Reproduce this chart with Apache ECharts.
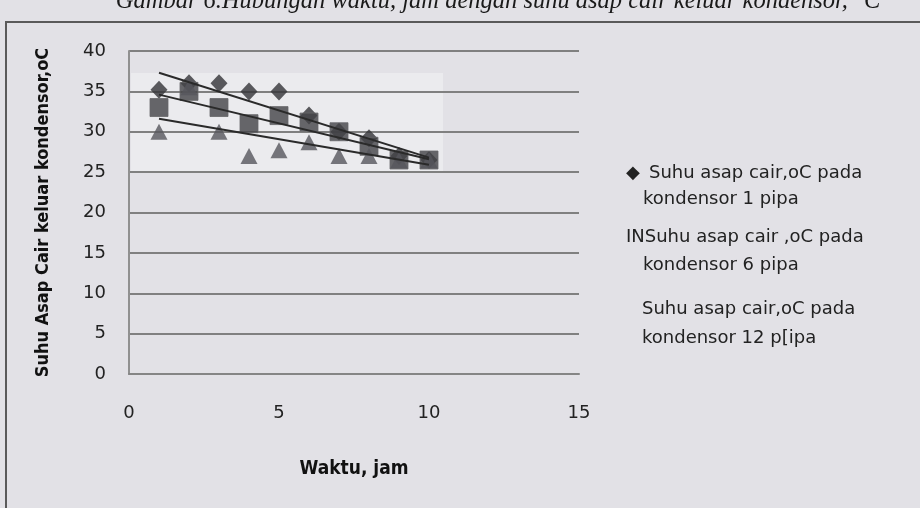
<!DOCTYPE html>
<html>
<head>
<meta charset="utf-8">
<script src="https://cdn.jsdelivr.net/npm/echarts@6/dist/echarts.min.js"></script>
<style>
  html, body { margin: 0; padding: 0; background: #e2e1e6; }
  #chart { width: 920px; height: 508px; }
</style>
</head>
<body>
<div id="chart"></div>
<script>
// waktu (jam) dan suhu asap cair keluar kondensor (oC)
const waktu = [1, 2, 3, 4, 5, 6, 7, 8, 9, 10]
const pipa1 = [35.2, 36, 36, 35, 35, 32, 30, 29.2, 27, 26.5]
const pipa6 = [33, 35, 33, 31, 32, 31.2, 30, 28.2, 26.5, 26.5]
const pipa12 = [30, 35.5, 30, 27, 27.7, 28.7, 27, 27, 26.5, 26.5]
// garis trend: nilai di t=1 dan t=10
const trendX = [1, 10]
const trend1 = [37.3, 26.8]
const trend6 = [34.6, 26.6]
const trend12 = [31.6, 25.9]

const legendLines = [
  ['Suhu asap cair,oC pada', 'kondensor 1 pipa'],
  ['INSuhu asap cair ,oC pada', 'kondensor 6 pipa'],
  ['Suhu asap cair,oC pada', 'kondensor 12 p[ipa']
]
const judul = 'Gambar 6.Hubungan waktu, jam dengan suhu asap cair keluar kondensor, \u00b0C'

const pair = (xs, ys) => xs.map((x, i) => [x, ys[i]])

const font = 'DejaVu Sans'
const txt = (x, y, s) => ({
  type: 'text', x: x, y: y, silent: true,
  style: { text: s, font: '18px "DejaVu Sans"', fill: '#222', verticalAlign: 'middle' }
})

const myChart = echarts.init(document.getElementById('chart'))
const option = {
  backgroundColor: '#e2e1e6',
  animation: false,
  grid: { left: 129, right: 341, top: 51, bottom: 134 },
  xAxis: {
    type: 'value',
    min: 0,
    max: 15,
    interval: 5,
    name: 'Waktu, jam',
    nameLocation: 'middle',
    nameGap: 86,
    nameTextStyle: { fontFamily: 'DejaVu Sans Condensed', fontWeight: 'bold', fontSize: 19, color: '#111' },
    axisLine: { show: true, lineStyle: { color: '#858585', width: 2 } },
    axisTick: { show: false },
    splitLine: { show: false },
    axisLabel: { margin: 30, fontFamily: font, fontSize: 18, color: '#222' }
  },
  yAxis: {
    type: 'value',
    min: 0,
    max: 40,
    interval: 5,
    name: 'Suhu Asap Cair keluar kondensor,oC',
    nameLocation: 'middle',
    nameGap: 77,
    nameTextStyle: { fontFamily: 'DejaVu Sans Condensed', fontWeight: 'bold', fontSize: 18, color: '#111' },
    axisLine: { show: true, lineStyle: { color: '#909090', width: 2 } },
    axisTick: { show: false },
    splitLine: { show: true, lineStyle: { color: '#808080', width: 2 } },
    axisLabel: { margin: 23, fontFamily: font, fontSize: 18, color: '#222' }
  },
  series: [
    {
      name: 'pipa1',
      type: 'scatter',
      symbol: 'diamond',
      symbolSize: [17, 18],
      itemStyle: { color: '#333337' },
      data: pair(waktu, pipa1),
      z: 3
    },
    {
      name: 'pipa6',
      type: 'scatter',
      symbol: 'rect',
      symbolSize: [18, 18],
      itemStyle: { color: '#434347', borderColor: '#666669', borderWidth: 1 },
      data: pair(waktu, pipa6),
      z: 3
    },
    {
      name: 'pipa12',
      type: 'scatter',
      symbol: 'triangle',
      symbolSize: [17, 16],
      itemStyle: { color: '#56565c' },
      data: pair(waktu, pipa12),
      z: 3
    },
    {
      type: 'line', silent: true, symbol: 'none', z: 4,
      lineStyle: { color: '#2a2a2a', width: 2 },
      data: pair(trendX, trend1)
    },
    {
      type: 'line', silent: true, symbol: 'none', z: 4,
      lineStyle: { color: '#2a2a2a', width: 2 },
      data: pair(trendX, trend6)
    },
    {
      type: 'line', silent: true, symbol: 'none', z: 4,
      lineStyle: { color: '#2a2a2a', width: 2 },
      data: pair(trendX, trend12)
    }
  ],
  graphic: [
    // bingkai gambar hasil scan
    {
      type: 'rect', silent: true, z: -10,
      shape: { x: 6, y: 22, width: 930, height: 520 },
      style: { fill: null, stroke: '#5a5a5a', lineWidth: 2 }
    },
    // bagian terang hasil scan
    {
      type: 'rect', silent: true, z: -5,
      shape: { x: 131, y: 73, width: 312, height: 99 },
      style: { fill: '#ebebee' }
    },
    {
      type: 'text', x: 498, y: 14, silent: true,
      style: { text: judul, font: 'italic 24.5px "Liberation Serif"', fill: '#1a1a1a', align: 'center', verticalAlign: 'bottom' }
    },
    txt(626, 173, '\u25c6'),
    txt(649, 173, legendLines[0][0]),
    txt(643, 199, legendLines[0][1]),
    txt(626, 237, legendLines[1][0]),
    txt(643, 265, legendLines[1][1]),
    txt(642, 309, legendLines[2][0]),
    txt(642, 338, legendLines[2][1])
  ]
}
myChart.setOption(option)
</script>
</body>
</html>
